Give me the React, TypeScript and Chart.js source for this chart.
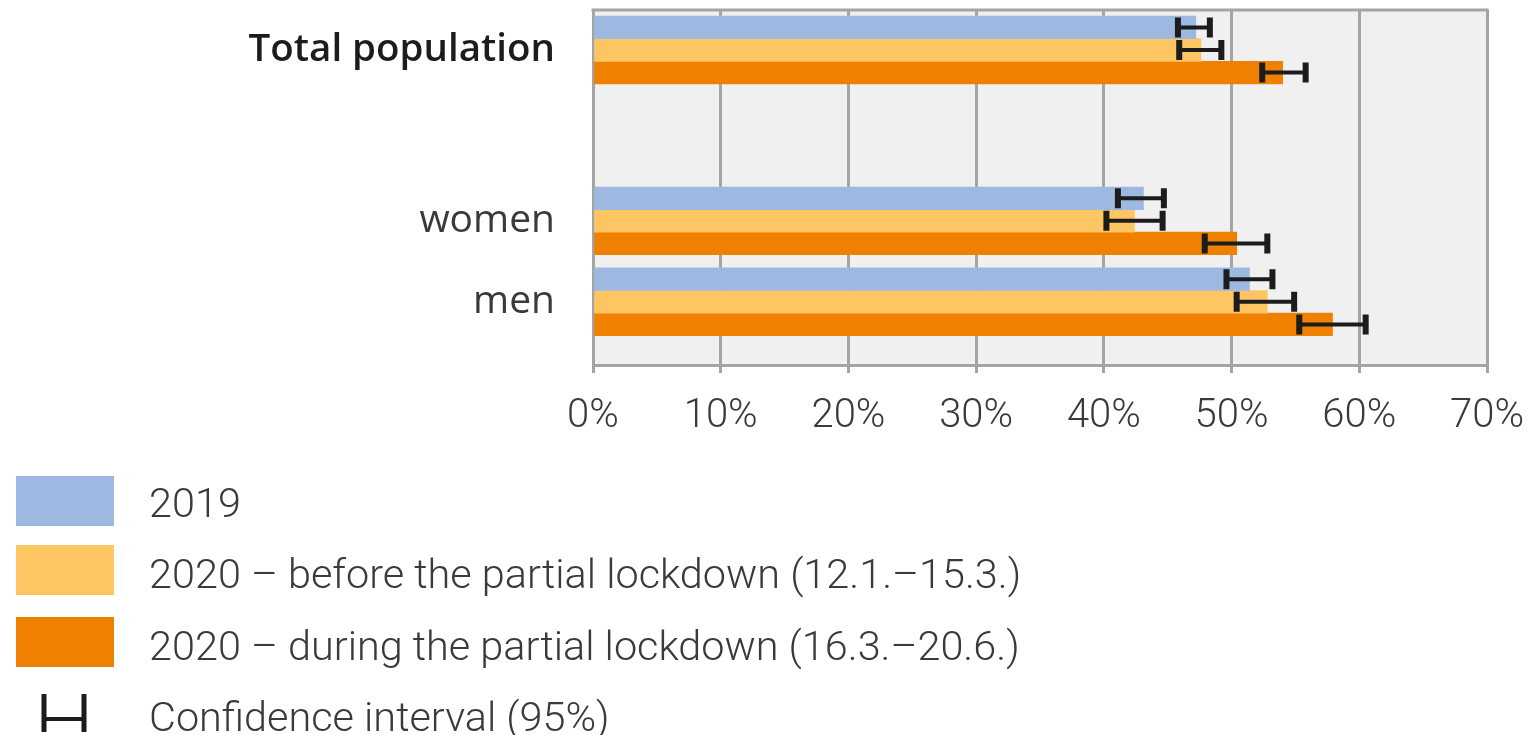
import React, { useEffect, useRef } from 'react';
import { Chart, registerables } from 'chart.js';

Chart.register(...registerables);

// ---- data ----
const CATEGORIES = ['Total population', 'women', 'men'];
// slot of each category on the (linear) category axis; the gap mirrors the original layout
const CATEGORY_SLOTS = [0, 2.11, 3.11];
const SERIES_LABELS = [
  '2019',
  '2020 – before the partial lockdown (12.1.–15.3.)',
  '2020 – during the partial lockdown (16.3.–20.6.)',
];
const CI_LABEL = 'Confidence interval (95%)';

const VALUES_2019 = [47.2, 43.1, 51.4];
const LOW_2019 = [45.8, 41.1, 49.6];
const HIGH_2019 = [48.3, 44.7, 53.2];

const VALUES_BEFORE = [47.6, 42.4, 52.8];
const LOW_BEFORE = [45.9, 40.2, 50.4];
const HIGH_BEFORE = [49.2, 44.6, 54.9];

const VALUES_DURING = [54.0, 50.4, 57.9];
const LOW_DURING = [52.4, 47.9, 55.3];
const HIGH_DURING = [55.8, 52.8, 60.5];

const X_MIN = 0;
const X_MAX = 70;
const X_STEP = 10;

// ---- styles ----
const COLORS = ['#9db9e1', '#fdc663', '#f08000'];
const GRID = '#a4a4a4';
const PLOT_BG = '#f0f0f0';
const TEXT = '#3a3a3a';
const ERR = '#1c1c1c';

const SERIES_VALUES = [VALUES_2019, VALUES_BEFORE, VALUES_DURING];
const SERIES_LOW = [LOW_2019, LOW_BEFORE, LOW_DURING];
const SERIES_HIGH = [HIGH_2019, HIGH_BEFORE, HIGH_DURING];

const plotBgPlugin = {
  id: 'plotBg',
  beforeDraw(chart: any) {
    const { ctx, chartArea: a } = chart;
    ctx.save();
    ctx.fillStyle = PLOT_BG;
    ctx.fillRect(a.left, a.top, a.right - a.left, a.bottom - a.top);
    ctx.restore();
  },
  beforeDatasetsDraw(chart: any) {
    const { ctx, chartArea: a } = chart;
    ctx.save();
    ctx.strokeStyle = GRID;
    ctx.lineWidth = 3;
    ctx.beginPath();
    ctx.moveTo(a.left - 1.5, a.top);
    ctx.lineTo(a.right + 1.5, a.top);
    ctx.stroke();
    ctx.restore();
  },
};

const errorBarPlugin = {
  id: 'errorBars',
  afterDatasetsDraw(chart: any) {
    const { ctx } = chart;
    const xs = chart.scales.x;
    ctx.save();
    ctx.strokeStyle = ERR;
    ctx.lineCap = 'butt';
    SERIES_LOW.forEach((lows, i) => {
      const meta = chart.getDatasetMeta(i);
      meta.data.forEach((bar: any, j: number) => {
        const y = bar.y;
        const x1 = xs.getPixelForValue(lows[j]);
        const x2 = xs.getPixelForValue(SERIES_HIGH[i][j]);
        const capH = 20;
        ctx.lineWidth = 4;
        ctx.beginPath();
        ctx.moveTo(x1, y);
        ctx.lineTo(x2, y);
        ctx.stroke();
        ctx.lineWidth = 6;
        ctx.beginPath();
        ctx.moveTo(x1, y - capH / 2);
        ctx.lineTo(x1, y + capH / 2);
        ctx.moveTo(x2, y - capH / 2);
        ctx.lineTo(x2, y + capH / 2);
        ctx.stroke();
      });
    });
    ctx.restore();
  },
};

const legendPlugin = {
  id: 'customLegend',
  afterDraw(chart: any) {
    const { ctx } = chart;
    ctx.save();
    ctx.font = '300 41.4px Roboto';
    ctx.fillStyle = TEXT;
    ctx.textAlign = 'left';
    ctx.textBaseline = 'alphabetic';
    const boxX = 16;
    const boxW = 98;
    const boxTops = [476, 545, 617];
    const baselines = [517, 588, 660, 731];
    const textX = 149;
    SERIES_LABELS.forEach((label, i) => {
      ctx.fillStyle = COLORS[i];
      ctx.fillRect(boxX, boxTops[i], boxW, 50);
      ctx.fillStyle = TEXT;
      ctx.fillText(label, textX, baselines[i]);
    });
    // CI symbol
    ctx.strokeStyle = ERR;
    ctx.lineWidth = 4;
    ctx.beginPath();
    ctx.moveTo(44, 719);
    ctx.lineTo(84, 719);
    ctx.stroke();
    ctx.lineWidth = 5;
    ctx.beginPath();
    ctx.moveTo(44, 694);
    ctx.lineTo(44, 732);
    ctx.moveTo(84, 694);
    ctx.lineTo(84, 732);
    ctx.stroke();
    ctx.fillStyle = TEXT;
    ctx.fillText(CI_LABEL, textX, baselines[3]);
    ctx.restore();
  },
};

function buildXTicks() {
  const t: number[] = [];
  for (let v = X_MIN; v <= X_MAX; v += X_STEP) t.push(v);
  return t;
}

export default function App() {
  const ref = useRef<HTMLCanvasElement | null>(null);

  useEffect(() => {
    document.body.style.margin = '0';
    const canvas = ref.current;
    if (!canvas) return;
    const chart = new Chart(canvas, {
      type: 'bar',
      data: {
        datasets: SERIES_LABELS.map((label, i) => ({
          label,
          data: SERIES_VALUES[i].map((v, j) => ({ x: v, y: CATEGORY_SLOTS[j] })),
          backgroundColor: COLORS[i],
          borderWidth: 0,
          barThickness: 22.6,
        })),
      },
      options: {
        indexAxis: 'y',
        animation: false,
        responsive: false,
        layout: { padding: { left: 0, right: 43, top: 10, bottom: 300 } },
        plugins: {
          legend: { display: false },
          tooltip: { enabled: false },
        },
        scales: {
          x: {
            type: 'linear',
            min: X_MIN,
            max: X_MAX,
            afterBuildTicks: (scale: any) => {
              scale.ticks = buildXTicks().map((v) => ({ value: v }));
            },
            afterFit: (scale: any) => {
              scale.height = 70;
              scale.paddingLeft = 0;
              scale.paddingRight = 0;
            },
            grid: {
              color: GRID,
              lineWidth: 3,
              tickLength: 8,
              drawTicks: true,
            },
            border: { display: true, color: GRID, width: 3 },
            ticks: {
              padding: 20,
              color: TEXT,
              font: { family: 'Roboto', size: 40, weight: 300 as any },
              callback: (v: any) => `${v}%`,
            },
          },
          y: {
            type: 'linear',
            reverse: true,
            bounds: 'data',
            min: -0.494,
            max: 3.89,
            offset: false,
            afterBuildTicks: (scale: any) => {
              scale.ticks = CATEGORY_SLOTS.map((v) => ({ value: v }));
            },
            afterFit: (scale: any) => {
              scale.width = 593;
              scale.paddingTop = 0;
              scale.paddingBottom = 0;
            },
            grid: { display: false, drawTicks: false },
            border: { display: true, color: GRID, width: 3 },
            ticks: {
              autoSkip: false,
              padding: 38,
              callback: (_v: any, i: number) => CATEGORIES[i],
              color: (c: any) => (c.index === 0 ? '#1c1c1c' : TEXT),
              font: (c: any) =>
                c.index === 0
                  ? { family: 'Open Sans', size: 38.5, weight: 600 as any }
                  : { family: 'Open Sans', size: 39, weight: 400 as any },
            },
          },
        },
      },
      plugins: [plotBgPlugin, errorBarPlugin, legendPlugin],
    } as any);
    return () => chart.destroy();
  }, []);

  return (
    <div style={{ position: 'absolute', left: 0, top: 0, width: 1530, height: 735 }}>
      <canvas ref={ref} width={1530} height={735} />
    </div>
  );
}
